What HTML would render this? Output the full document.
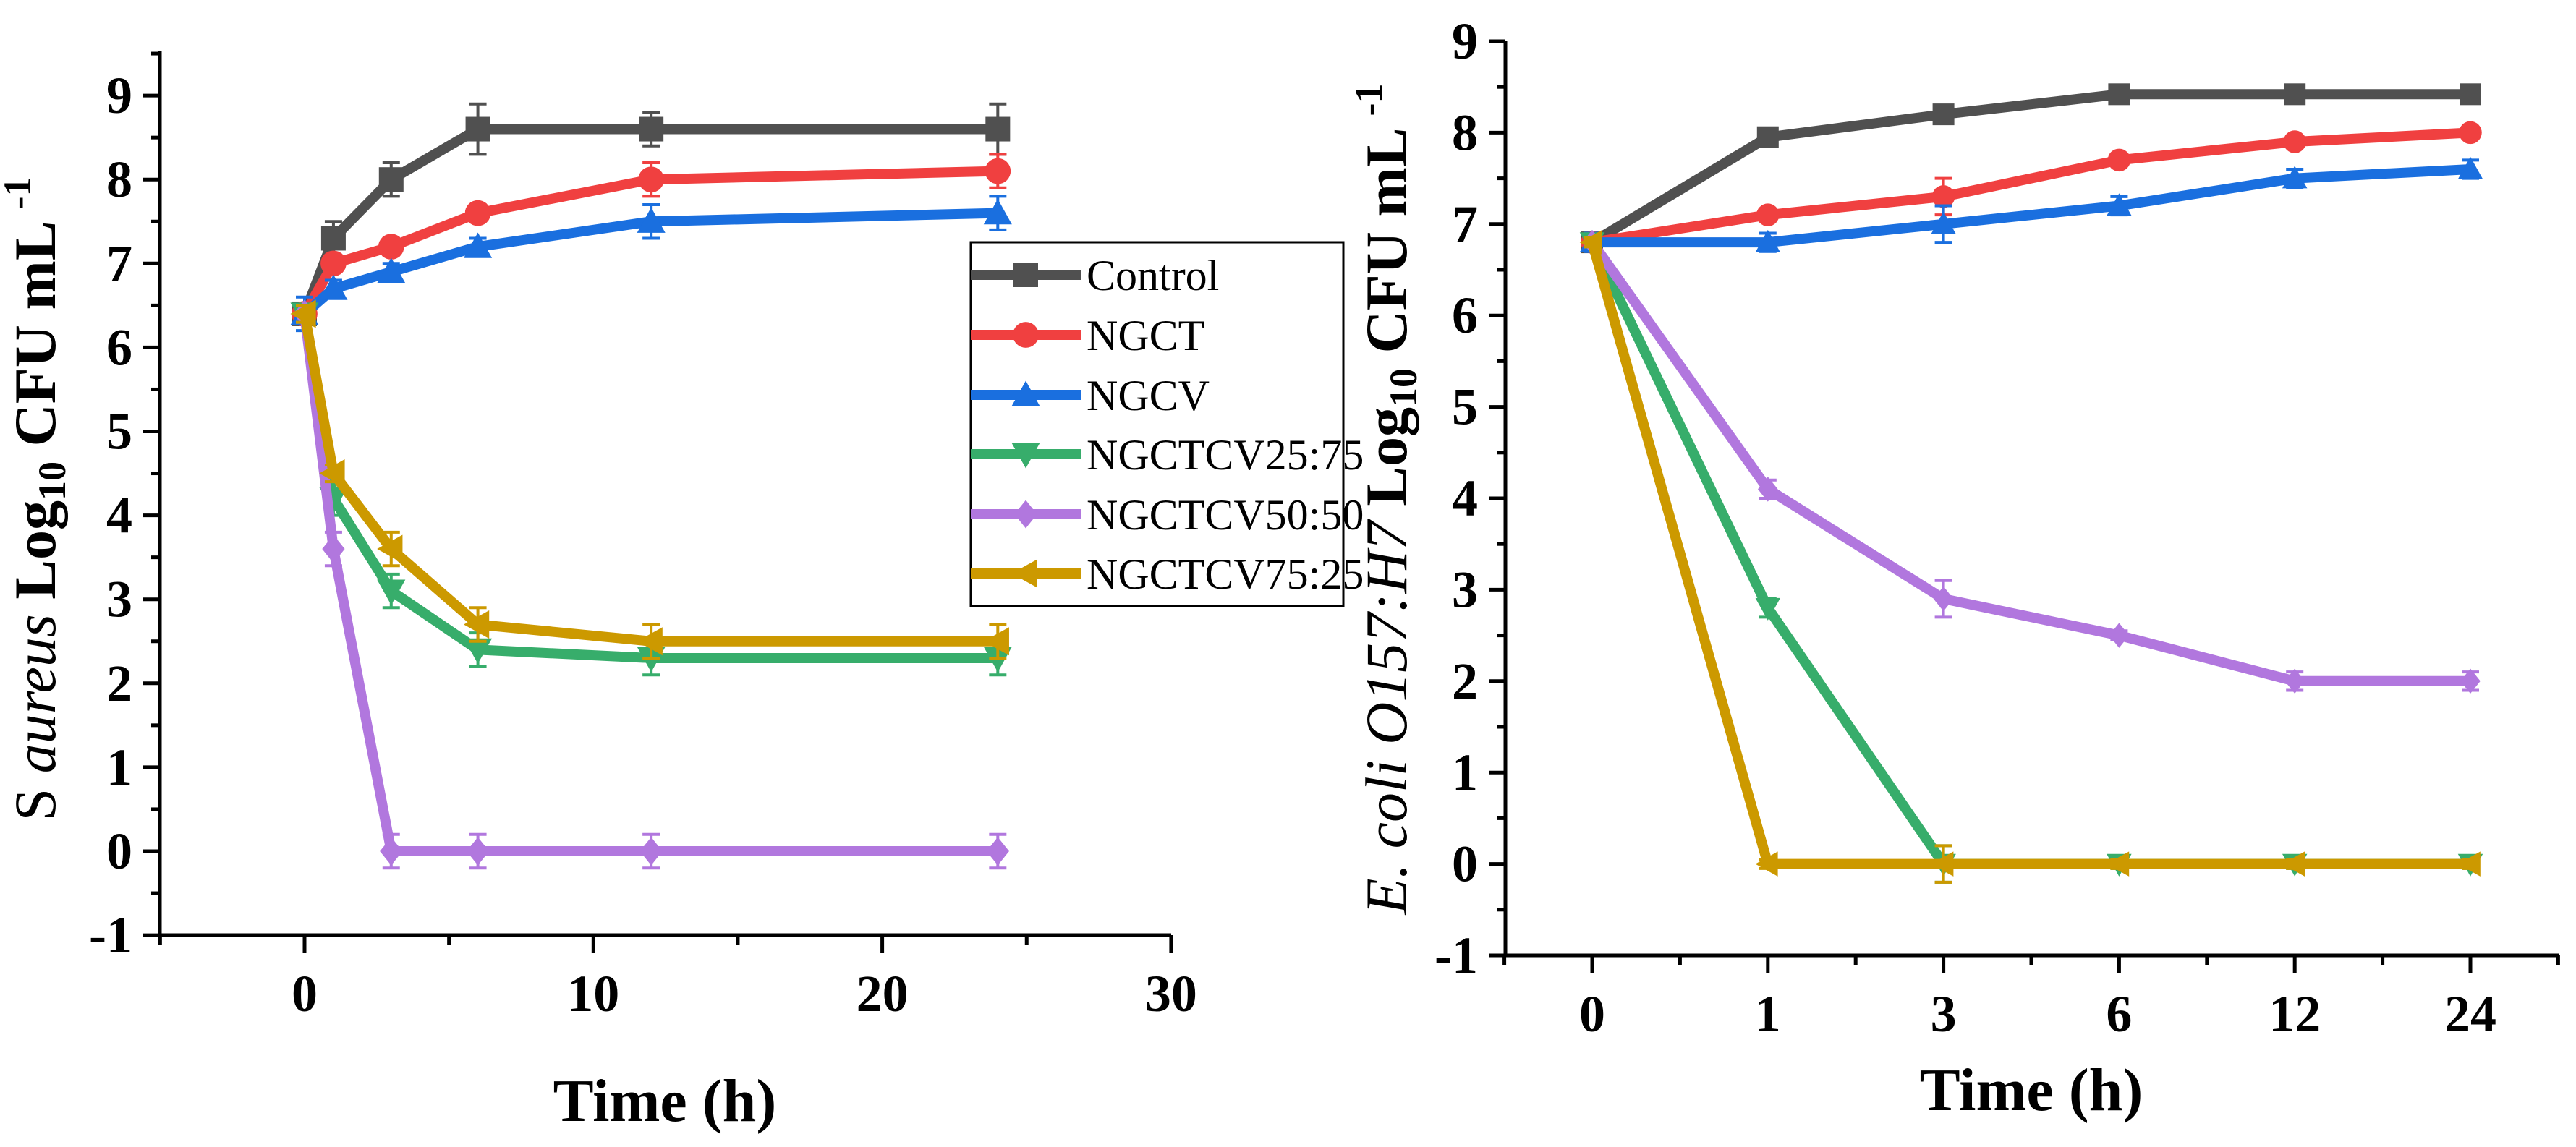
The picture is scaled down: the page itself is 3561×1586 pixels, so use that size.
<!DOCTYPE html>
<html><head><meta charset="utf-8"><style>
html,body{margin:0;padding:0;background:#fff;}
svg{display:block;}
svg text{font-family:"Liberation Serif","Times New Roman","DejaVu Serif",serif;}
</style></head><body>
<svg id="chart" width="3561" height="1586" viewBox="0 0 3561 1586" xmlns="http://www.w3.org/2000/svg">
<g id="left"></g>
<g id="right"></g>
</svg>
<script>
const seriesNames = ["Control","NGCT","NGCV","NGCTCV25:75","NGCTCV50:50","NGCTCV75:25"];
const timesLeft = [0,1,3,6,12,24];
const leftControl = [6.4,7.3,8.0,8.6,8.6,8.6];
const leftNGCT = [6.4,7.0,7.2,7.6,8.0,8.1];
const leftNGCV = [6.4,6.7,6.9,7.2,7.5,7.6];
const leftMix2575 = [6.4,4.2,3.1,2.4,2.3,2.3];
const leftMix5050 = [6.4,3.6,0,0,0,0];
const leftMix7525 = [6.4,4.5,3.6,2.7,2.5,2.5];
const leftErrControl = [0.1,0.2,0.2,0.3,0.2,0.3];
const leftErrNGCT = [0.1,0.1,0.1,0.1,0.2,0.2];
const leftErrNGCV = [0.2,0.1,0.1,0.1,0.2,0.2];
const leftErr2575 = [0.1,0.2,0.2,0.2,0.2,0.2];
const leftErr5050 = [0.1,0.2,0.2,0.2,0.2,0.2];
const leftErr7525 = [0.1,0.1,0.2,0.2,0.2,0.2];
const rightCategories = ["0","1","3","6","12","24"];
const rightControl = [6.8,7.95,8.2,8.42,8.42,8.42];
const rightNGCT = [6.8,7.1,7.3,7.7,7.9,8.0];
const rightNGCV = [6.8,6.8,7.0,7.2,7.5,7.6];
const rightMix2575 = [6.8,2.8,0,0,0,0];
const rightMix5050 = [6.8,4.1,2.9,2.5,2.0,2.0];
const rightMix7525 = [6.8,0,0,0,0,0];
const rightErrControl = [0.05,0.05,0.05,0.05,0.05,0.05];
const rightErrNGCT = [0.05,0.05,0.2,0.05,0.05,0.05];
const rightErrNGCV = [0.1,0.1,0.2,0.1,0.1,0.1];
const rightErr2575 = [0.05,0.1,0.2,0.05,0.05,0.05];
const rightErr5050 = [0.05,0.1,0.2,0.05,0.1,0.1];
const rightErr7525 = [0.05,0.05,0.2,0.05,0.05,0.05];
const yTickLabels = ["-1","0","1","2","3","4","5","6","7","8","9"];
const leftXTickLabels = ["0","10","20","30"];

const FONT = "Liberation Serif, Times New Roman, DejaVu Serif, serif";
const colors = ["#505050","#f04040","#1a6fdf","#37ad6b","#b177de","#cc9900"];
const shapes = ["square","circle","triUp","triDown","diamond","triLeft"];
const NS = "http://www.w3.org/2000/svg";
function mk(parent, tag, attrs, text){
  const e = document.createElementNS(NS, tag);
  for (const k in attrs) e.setAttribute(k, attrs[k]);
  if (tag==="text") e.style.fontFamily = '"Liberation Serif","Times New Roman","DejaVu Serif",serif';
  if (text !== undefined) e.textContent = text;
  parent.appendChild(e); return e;
}
function marker(g, shape, cx, cy, s, color){
  const h = s/2; let e;
  if (shape==="square") e = mk(g,"rect",{x:cx-h,y:cy-h,width:s,height:s,fill:color});
  else if (shape==="circle") e = mk(g,"circle",{cx:cx,cy:cy,r:h*1.05,fill:color});
  else {
    let pts;
    const k=h*1.15;
    if (shape==="triUp") pts=[[cx,cy-k],[cx+k,cy+k*0.8],[cx-k,cy+k*0.8]];
    else if (shape==="triDown") pts=[[cx,cy+k],[cx+k,cy-k*0.8],[cx-k,cy-k*0.8]];
    else if (shape==="triLeft") pts=[[cx-k,cy],[cx+k*0.8,cy-k],[cx+k*0.8,cy+k]];
    else pts=[[cx,cy-k],[cx+k*0.8,cy],[cx,cy+k],[cx-k*0.8,cy]];
    e = mk(g,"polygon",{points:pts.map(p=>p.join(",")).join(" "),fill:color});
  }
  return e;
}

function drawPanel(root, cfg){
  const g = root;
  cfg.series.forEach((vals, si)=>{
    const sg = mk(g,"g",{});
    
    
    const pts = vals.map((v,i)=>[cfg.x(i), cfg.y(v)]);
    const errs = cfg.errs[si];
    vals.forEach((v,i)=>{
      const x=cfg.x(i), y1=cfg.y(v+errs[i]), y2=cfg.y(v-errs[i]);
      const eb = mk(sg,"path",{d:`M${x},${y1}V${y2}M${x-12},${y1}H${x+12}M${x-12},${y2}H${x+12}`,stroke:colors[si],"stroke-width":4,fill:"none"});
      
      
    });
    const line = mk(sg,"polyline",{points:pts.map(p=>p.join(",")).join(" "),fill:"none",stroke:colors[si],"stroke-width":cfg.lw,"stroke-linejoin":"round"});
    
    
    pts.forEach(p=>{
      const m = marker(sg, shapes[si], p[0], p[1], cfg.ms, colors[si]);
      
      
    });
  });
  const ax = mk(g,"g",{stroke:"#000","stroke-width":5,fill:"none"});
  
  
  mk(ax,"path",{d:`M${cfg.axL},${cfg.axTop}V${cfg.axY}H${cfg.axR}`});
  for (let v=-1; v<=9; v++){
    const y=cfg.y(v);
    mk(ax,"path",{d:`M${cfg.axL-23},${y}H${cfg.axL}`});
    const ym=cfg.y(v+0.5); if (ym>=cfg.axTop) mk(ax,"path",{d:`M${cfg.axL-12},${ym}H${cfg.axL}`});
    const t = mk(g,"text",{x:cfg.axL-38,y:y+24,"text-anchor":"end","font-size":72,"font-weight":"bold"}, yTickLabels[v+1]);
    
    
  }
  cfg.xMajor.forEach((xv,i)=>{
    const x=cfg.xm(xv);
    mk(ax,"path",{d:`M${x},${cfg.axY}V${cfg.axY+25}`});
    const t = mk(g,"text",{x:x,y:cfg.axY+105,"text-anchor":"middle","font-size":72,"font-weight":"bold"}, cfg.xLabels[i]);
    
    
  });
  cfg.xMinor.forEach(xv=>{
    const x=cfg.xm(xv);
    mk(ax,"path",{d:`M${x},${cfg.axY}V${cfg.axY+13}`});
  });
  const xt = mk(g,"text",{x:cfg.xtX,y:cfg.xtY,"text-anchor":"middle","font-size":84,"font-weight":"bold"},"Time (h)");
  
  
}

const L = {
  x:i=>421+39.93*timesLeft[i], xm:t=>421+39.93*t,
  y:v=>1177-116.1*v,
  axL:221, axR:1619, axTop:70, axY:1293,
  xMajor:[0,10,20,30], xLabels:leftXTickLabels, xMinor:[-5,5,15,25],
  series:[leftControl,leftNGCT,leftNGCV,leftMix2575,leftMix5050,leftMix7525],
  errs:[leftErrControl,leftErrNGCT,leftErrNGCV,leftErr2575,leftErr5050,leftErr7525],
  lw:14, ms:34, xtX:919, xtY:1550
};
drawPanel(document.getElementById('left'), L);
const R = {
  x:i=>2201+242.8*i, xm:i=>2201+242.8*i,
  y:v=>1194.6-126.4*v,
  axL:2081, axR:3537, axTop:57, axY:1321,
  xMajor:[0,1,2,3,4,5], xLabels:rightCategories, xMinor:[-0.5,0.5,1.5,2.5,3.5,4.5,5.5],
  series:[rightControl,rightNGCT,rightNGCV,rightMix2575,rightMix5050,rightMix7525],
  errs:[rightErrControl,rightErrNGCT,rightErrNGCV,rightErr2575,rightErr5050,rightErr7525],
  lw:14, ms:30, xtX:2808, xtY:1535
};
drawPanel(document.getElementById('right'), R);

const lroot=document.getElementById('left');
const yl = mk(lroot,"text",{transform:"translate(76,690) rotate(-90)","text-anchor":"middle","font-size":82,"font-weight":"bold"});


yl.innerHTML = '<tspan font-weight="normal">S </tspan><tspan font-style="italic" font-weight="normal">aureus</tspan> Log<tspan font-size="54" dy="14">10</tspan><tspan dy="-14"> CFU mL </tspan><tspan font-size="54" dy="-34">-1</tspan>';
const rroot=document.getElementById('right');
const yr = mk(rroot,"text",{transform:"translate(1944,690) rotate(-90)","text-anchor":"middle","font-size":82,"font-weight":"bold"});


yr.innerHTML = '<tspan font-style="italic" font-weight="normal">E. coli O157:H7</tspan> Log<tspan font-size="54" dy="14">10</tspan><tspan dy="-14"> CFU mL </tspan><tspan font-size="54" dy="-34">-1</tspan>';

const lg = mk(lroot,"g",{});


mk(lg,"rect",{x:1342,y:335,width:515,height:503,fill:"#fff",stroke:"#000","stroke-width":3});
const rowY=[380,463,546,628,711,793];
seriesNames.forEach((n,i)=>{
  const eg = mk(lg,"g",{});
  
  
  mk(eg,"line",{x1:1342,x2:1494,y1:rowY[i],y2:rowY[i],stroke:colors[i],"stroke-width":14});
  marker(eg, shapes[i], 1418, rowY[i], 34, colors[i]);
  mk(eg,"text",{x:1502,y:rowY[i]+21,"font-size":60,"font-weight":"normal"}, n);
});
</script>
</body></html>
